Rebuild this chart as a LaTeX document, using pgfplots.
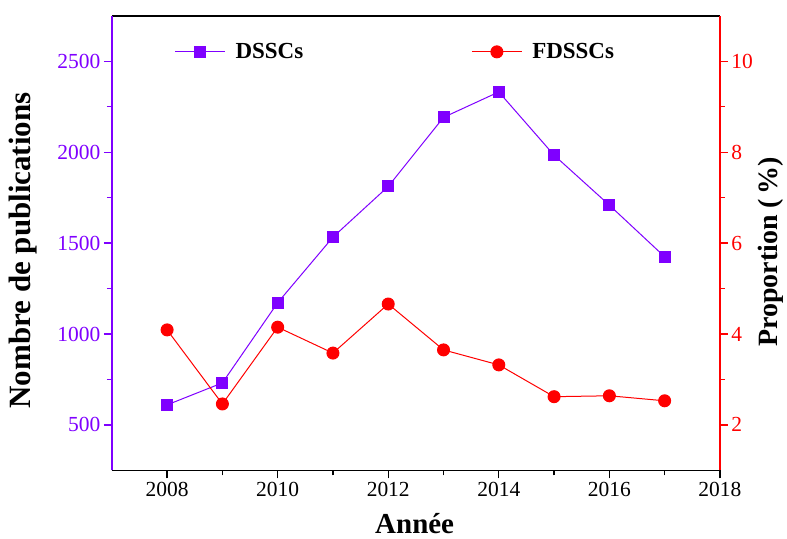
\documentclass[border=0pt]{standalone}
\usepackage{pgfplots}
\pgfplotsset{compat=1.18}
\usepackage{fontspec}
\setmainfont{Liberation Serif}
\definecolor{pur}{RGB}{127,0,255}
\definecolor{rd}{RGB}{255,0,0}
\begin{document}
\begin{tikzpicture}
\pgfplotsset{
  every axis/.append style={
    scale only axis, width=609pt, height=455pt,
    at={(0pt,0pt)}, anchor=south west,
    xmin=2007, xmax=2018,
    /pgf/number format/assume math mode=true,
    /pgf/number format/1000 sep={},
    tick label style={font=\fontsize{21.5}{24}\selectfont},
    tick align=outside,
    major tick length=8pt, minor tick length=5pt,
    every tick/.style={line width=1.3pt},
    legend style={draw=none, fill=none, inner sep=0pt, font=\fontsize{23}{26}\selectfont\bfseries},
    legend image code/.code={\draw[mark repeat=2,mark phase=2] plot coordinates {(0pt,0pt)(25pt,0pt)(50pt,0pt)};},
  }
}
\begin{axis}[
  axis x line*=box, axis y line*=left,
  xtick pos=bottom,
  ymin=250, ymax=2750,
  xtick={2008,2010,...,2018}, minor xtick={2009,2011,...,2017},
  ytick={500,1000,...,2500}, minor ytick={750,1250,...,2250},
  x axis line style={black, line width=1.5pt},
  y axis line style={pur, line width=1.5pt},
  ytick style={pur}, yticklabel style={pur},
  xtick style={black},
  xlabel={Année}, ylabel={Nombre de publications},
  xlabel style={font=\fontsize{29}{32}\selectfont\bfseries, at={(axis description cs:0.498,-0.117)}, anchor=center},
  ylabel style={font=\fontsize{31}{34}\selectfont\bfseries, at={(axis description cs:-0.146,0.484)}, anchor=center, rotate=0},
  legend style={at={(0.103,0.921)}, anchor=west},
]
\addplot[pur, line width=1pt, mark=square*, mark size=5.5pt, mark options={solid}] coordinates {
(2008,610) (2009,731) (2010,1172) (2011,1533) (2012,1812) (2013,2192) (2014,2332) (2015,1984) (2016,1709) (2017,1425)};
\addlegendentry{\hspace{8pt}DSSCs}
\end{axis}
\begin{axis}[
  axis x line=none, axis y line*=right,
  ymin=1, ymax=11,
  ytick={2,4,...,10}, minor ytick={3,5,...,9},
  y axis line style={rd, line width=1.5pt},
  ytick style={rd}, yticklabel style={rd},
  ylabel={Proportion (\,\%)},
  ylabel style={font=\fontsize{28}{31}\selectfont\bfseries, at={(axis description cs:1.084,0.481)}, anchor=center},
  legend style={at={(0.591,0.921)}, anchor=west},
]
\addplot[rd, line width=1pt, mark=*, mark size=6pt] coordinates {
(2008,4.09) (2009,2.46) (2010,4.15) (2011,3.58) (2012,4.66) (2013,3.65) (2014,3.32) (2015,2.62) (2016,2.64) (2017,2.53)};
\addlegendentry{\hspace{8pt}FDSSCs}
\end{axis}
\path (-112pt,-68pt) rectangle (675pt,471pt);
\end{tikzpicture}
\end{document}
